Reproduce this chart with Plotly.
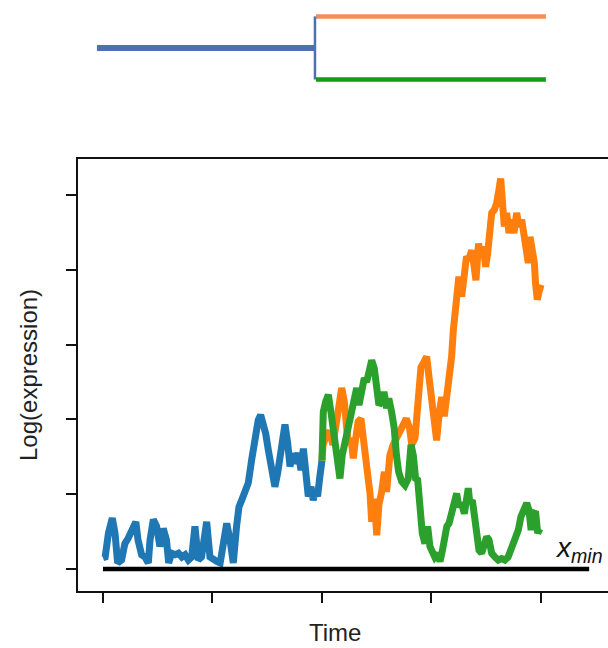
import plotly.graph_objects as go

# ---------------- data ----------------
blue_t = [0.00, 0.02, 0.05, 0.085, 0.11, 0.134, 0.17, 0.20, 0.23, 0.262, 0.30, 0.32, 0.353, 0.384, 0.414,
          0.43, 0.46, 0.49, 0.52, 0.55, 0.58, 0.60, 0.627, 0.66, 0.69, 0.72, 0.75, 0.78, 0.81, 0.84,
          0.87, 0.90, 0.947, 0.977, 1.007, 1.04, 1.07, 1.10, 1.13, 1.16, 1.19, 1.22, 1.242, 1.267, 1.297,
          1.327, 1.358, 1.388, 1.418, 1.44, 1.464, 1.486, 1.51, 1.54, 1.57, 1.595, 1.616, 1.647, 1.662,
          1.687, 1.708, 1.73, 1.753, 1.784, 1.808, 1.83, 1.85, 1.875, 1.90, 1.92, 1.94, 1.96, 1.98, 2.00]
blue_y = [0.15, 0.16, 0.48, 0.68, 0.48, 0.08, 0.12, 0.34, 0.41, 0.50, 0.63, 0.39, 0.19, 0.16, 0.08,
          0.39, 0.66, 0.57, 0.30, 0.54, 0.39, 0.08, 0.21, 0.19, 0.21, 0.16, 0.19, 0.12, 0.16, 0.57,
          0.12, 0.16, 0.63, 0.16, 0.12, 0.10, 0.08, 0.39, 0.61, 0.39, 0.08, 0.57, 0.83, 0.92, 1.06,
          1.15, 1.46, 1.77, 1.99, 2.06, 1.95, 1.81, 1.59, 1.32, 1.10, 1.28, 1.50, 1.86, 1.93,
          1.68, 1.37, 1.55, 1.41, 1.55, 1.32, 1.61, 1.23, 0.97, 1.10, 0.92, 1.06, 0.97, 1.23, 1.45]

orange_t = [2.00, 2.003, 2.01, 2.04, 2.07, 2.10, 2.12, 2.15, 2.18, 2.204, 2.225, 2.24, 2.265, 2.286, 2.30,
            2.33, 2.356, 2.377, 2.40, 2.423, 2.44, 2.454, 2.478, 2.50, 2.52, 2.545, 2.57, 2.59, 2.62,
            2.65, 2.68, 2.71, 2.74, 2.77, 2.80, 2.82, 2.85, 2.88, 2.904, 2.925, 2.956, 2.977, 3.00,
            3.026, 3.047, 3.068, 3.093, 3.117, 3.14, 3.16, 3.184, 3.20, 3.215, 3.23, 3.25, 3.276, 3.30,
            3.32, 3.34, 3.367, 3.39, 3.406, 3.43, 3.45, 3.473, 3.495, 3.513, 3.534, 3.55, 3.574, 3.595,
            3.616, 3.632, 3.647, 3.665, 3.687, 3.708, 3.732, 3.753, 3.778, 3.80, 3.824, 3.847, 3.87,
            3.884, 3.90, 3.92, 3.94, 3.95, 3.966, 3.98, 4.00]
orange_y = [1.45, 1.48, 1.66, 1.79, 1.84, 1.66, 1.88, 2.19, 2.42, 2.24, 1.84, 1.66, 1.75, 1.48, 1.66,
            1.97, 2.01, 1.75, 1.52, 1.21, 0.99, 0.63, 0.94, 0.45, 0.86, 1.03, 1.30, 1.03, 1.52,
            1.66, 1.75, 1.88, 1.97, 2.01, 1.88, 1.66, 1.75, 2.21, 2.70, 2.75, 2.84, 2.57, 2.21,
            1.99, 1.72, 2.04, 2.30, 2.04, 2.30, 2.53, 2.84, 3.20, 3.46, 3.69, 3.91, 3.64, 4.00,
            4.18, 4.13, 4.26, 4.04, 3.86, 4.35, 4.18, 4.31, 4.04, 4.22, 4.44, 4.76, 4.80, 4.89,
            5.07, 5.22, 4.93, 4.58, 4.76, 4.49, 4.67, 4.49, 4.76, 4.58, 4.67, 4.49, 4.31,
            4.09, 4.44, 4.26, 4.09, 3.82, 3.60, 3.69, 3.80]

green_t = [2.00, 2.003, 2.012, 2.034, 2.058, 2.082, 2.103, 2.12, 2.143, 2.164, 2.185, 2.21, 2.235, 2.256,
           2.277, 2.295, 2.317, 2.338, 2.362, 2.386, 2.408, 2.432, 2.454, 2.478, 2.50, 2.52, 2.545,
           2.566, 2.59, 2.61, 2.636, 2.66, 2.68, 2.70, 2.728, 2.758, 2.788, 2.813, 2.834, 2.855,
           2.874, 2.895, 2.916, 2.94, 2.965, 2.986, 3.007, 3.03, 3.056, 3.078, 3.10, 3.117, 3.14,
           3.16, 3.184, 3.208, 3.23, 3.25, 3.276, 3.30, 3.32, 3.336, 3.35, 3.373, 3.39, 3.413, 3.434,
           3.458, 3.48, 3.504, 3.525, 3.55, 3.58, 3.61, 3.64, 3.67, 3.70, 3.726, 3.747, 3.77, 3.793,
           3.817, 3.84, 3.87, 3.89, 3.91, 3.93, 3.95, 3.97, 3.99]
green_y = [1.45, 1.75, 2.10, 2.24, 2.33, 2.10, 1.88, 1.57, 1.43, 1.21, 1.52, 1.70, 1.84, 1.97,
           2.10, 2.28, 2.42, 2.19, 2.33, 2.55, 2.50, 2.64, 2.79, 2.68, 2.42, 2.19, 2.24,
           2.37, 2.15, 2.28, 2.10, 1.88, 1.52, 1.30, 1.17, 1.12, 1.21, 1.66, 1.52, 1.21,
           1.19, 0.79, 0.48, 0.34, 0.57, 0.30, 0.21, 0.16, 0.21, 0.10, 0.25, 0.43, 0.57,
           0.61, 0.74, 0.88, 1.01, 0.83, 0.88, 0.74, 0.95, 1.08, 0.88, 0.92, 0.74, 0.52, 0.25,
           0.21, 0.34, 0.43, 0.39, 0.21, 0.16, 0.12, 0.14, 0.12, 0.16, 0.25, 0.34, 0.43, 0.52,
           0.70, 0.81, 0.88, 0.79, 0.52, 0.74, 0.77, 0.48, 0.54]

xmin_t = [0.0, 4.44]
xmin_y = [0.0, 0.0]

x_ticks = [0, 1, 2, 3, 4]
y_ticks = [0, 1, 2, 3, 4, 5]

# lineage tree (time units; branches at offsets +1 / -1)
tree_root_t = [-0.055, 1.936]
tree_root_y = [0, 0]
tree_split_t = [1.936, 1.936]
tree_split_y = [1, -1]
tree_leaf_t = [1.945, 4.045]
tree_orange_y = [1, 1]
tree_green_y = [-1, -1]

C_BLUE, C_ORANGE, C_GREEN = "#1f77b4", "#ff7f0e", "#2ca02c"
T_BLUE, T_ORANGE, T_GREEN = "#4d70b0", "#f48e58", "#119e11"

fig = go.Figure()

lw = 7
fig.add_trace(go.Scatter(x=blue_t, y=blue_y, mode="lines",
                         line=dict(color=C_BLUE, width=lw)))
fig.add_trace(go.Scatter(x=orange_t, y=orange_y, mode="lines",
                         line=dict(color=C_ORANGE, width=lw)))
fig.add_trace(go.Scatter(x=green_t, y=green_y, mode="lines",
                         line=dict(color=C_GREEN, width=lw)))
fig.add_trace(go.Scatter(x=xmin_t, y=xmin_y, mode="lines",
                         line=dict(color="black", width=4.5)))

# tree
fig.add_trace(go.Scatter(x=tree_root_t, y=tree_root_y, mode="lines", xaxis="x2", yaxis="y2",
                         line=dict(color=T_BLUE, width=6)))
fig.add_trace(go.Scatter(x=tree_leaf_t, y=tree_orange_y, mode="lines", xaxis="x2", yaxis="y2",
                         line=dict(color=T_ORANGE, width=4.5)))
fig.add_trace(go.Scatter(x=tree_leaf_t, y=tree_green_y, mode="lines", xaxis="x2", yaxis="y2",
                         line=dict(color=T_GREEN, width=4.5)))
fig.add_trace(go.Scatter(x=tree_split_t, y=tree_split_y, mode="lines", xaxis="x2", yaxis="y2",
                         line=dict(color=T_BLUE, width=2.5)))

FONT = "Liberation Sans, Arial, sans-serif"
xr = [-0.228, 4.612]
fig.update_layout(
    width=608, height=648,
    margin=dict(l=78, r=0, t=0, b=57, pad=0),
    paper_bgcolor="white", plot_bgcolor="white",
    showlegend=False,
    hovermode=False,
    xaxis=dict(domain=[0, 1], range=xr, showline=True, linecolor="#111", linewidth=2,
               mirror=True, ticks="outside", ticklen=10, tickwidth=2, tickcolor="#111",
               tickvals=x_ticks, showticklabels=False, showgrid=False, zeroline=False),
    yaxis=dict(domain=[0, 0.731], range=[-0.294, 5.481], showline=True, linecolor="#111",
               linewidth=2, ticks="outside", ticklen=10, tickwidth=2, tickcolor="#111",
               tickvals=y_ticks, showticklabels=False, showgrid=False, zeroline=False),
    xaxis2=dict(domain=[0, 1], range=xr, anchor="y2", visible=False),
    yaxis2=dict(domain=[0.8308, 1], range=[-1.65, 1.52], anchor="x2", visible=False),
    annotations=[
        dict(text="Time", xref="paper", yref="paper", x=(335 - 78) / 530, y=(591 - 632) / 591,
             xanchor="center", yanchor="middle", showarrow=False,
             font=dict(family=FONT, size=24, color="#222")),
        dict(text="Log(expression)", xref="paper", yref="paper", x=(28 - 78) / 530,
             y=(591 - 375) / 591, textangle=-90, xanchor="center", yanchor="middle",
             showarrow=False, font=dict(family=FONT, size=24, color="#222")),
        dict(text="<i>x<sub>min</sub></i>", xref="paper", yref="y", x=(605 - 78) / 530, y=0,
             xanchor="right", yanchor="bottom", showarrow=False,
             font=dict(family=FONT, size=28, color="#111")),
    ],
)

fig.write_html("out.html", config={"displayModeBar": False},
               post_script="document.body.style.margin='0';document.body.style.overflow='hidden';")
